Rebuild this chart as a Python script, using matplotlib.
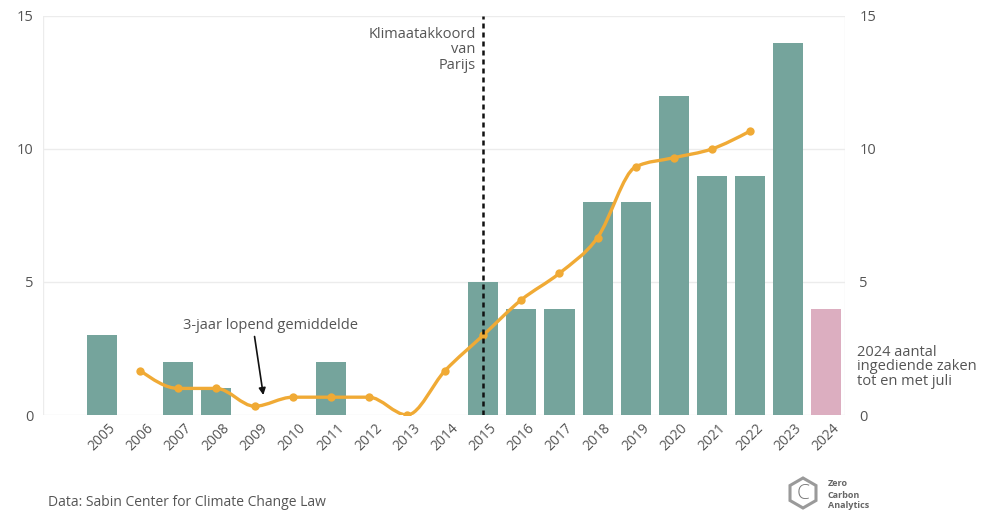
import numpy as np
import matplotlib
matplotlib.use("Agg")
import matplotlib.pyplot as plt
from matplotlib.path import Path
from matplotlib.patches import PathPatch, RegularPolygon

plt.rcParams['font.family'] = ['Open Sans', 'DejaVu Sans']

years = [2005, 2006, 2007, 2008, 2009, 2010, 2011, 2012, 2013, 2014,
         2015, 2016, 2017, 2018, 2019, 2020, 2021, 2022, 2023, 2024]
cases = [3, 0, 2, 1, 0, 0, 2, 0, 0, 0, 5, 4, 4, 8, 8, 12, 9, 9, 14, 4]
avg_years = [2006, 2007, 2008, 2009, 2010, 2011, 2012, 2013, 2014,
             2015, 2016, 2017, 2018, 2019, 2020, 2021, 2022]
avg_values = [1.67, 1.0, 1.0, 0.33, 0.67, 0.67, 0.67, 0.0, 1.67,
              3.0, 4.33, 5.33, 6.67, 9.33, 9.67, 10.0, 10.67]
yticks = [0, 5, 10, 15]

TEAL = '#75a49c'
PINK = '#dcaec0'
ORANGE = '#f0aa35'
GRID = '#ececec'
TXT = '#555555'

fig = plt.figure(figsize=(9.91, 5.13), dpi=100)
ax = fig.add_axes([0.0434, 0.191, 0.8096, 0.778])

colors = [TEAL] * (len(years) - 1) + [PINK]
ax.bar(years, cases, width=0.79, color=colors, zorder=2)


def monotone_path(xs, ys):
    xs = np.asarray(xs, float)
    ys = np.asarray(ys, float)
    n = len(xs)
    h = np.diff(xs)
    s = np.diff(ys) / h
    t = np.zeros(n)
    for i in range(1, n - 1):
        s0, s1 = s[i - 1], s[i]
        p = (s0 * h[i] + s1 * h[i - 1]) / (h[i - 1] + h[i])
        t[i] = (np.sign(s0) + np.sign(s1)) * min(abs(s0), abs(s1), 0.5 * abs(p))
    t[0] = (3 * s[0] - t[1]) / 2
    t[-1] = (3 * s[-1] - t[-2]) / 2
    verts = [(xs[0], ys[0])]
    codes = [Path.MOVETO]
    for i in range(n - 1):
        dx = h[i] / 3
        verts += [(xs[i] + dx, ys[i] + dx * t[i]),
                  (xs[i + 1] - dx, ys[i + 1] - dx * t[i + 1]),
                  (xs[i + 1], ys[i + 1])]
        codes += [Path.CURVE4] * 3
    return Path(verts, codes)


ax.add_patch(PathPatch(monotone_path(avg_years, avg_values), facecolor='none',
                       edgecolor=ORANGE, lw=2.4, zorder=4, capstyle='round'))
ax.scatter(avg_years, avg_values, s=36, color=ORANGE, zorder=5, linewidths=0)

ax.axvline(2015, ymin=0, ymax=1, color='#111111', lw=1.8, ls=(0, (2, 1.6)), zorder=6)

ax.set_xlim(2003.45, 2024.5)
ax.set_ylim(0, 15)
ax.set_yticks(yticks)
ax.set_yticklabels([str(v) for v in yticks])
ax.grid(axis='y', color=GRID, lw=1, zorder=0)
ax.set_axisbelow(True)
for sp in ax.spines.values():
    sp.set_visible(False)
ax.axvline(ax.get_xlim()[0], color=GRID, lw=1, zorder=0)
ax.axvline(ax.get_xlim()[1], color=GRID, lw=1, zorder=0)
ax.tick_params(axis='y', length=0, pad=7, labelsize=10.5, labelcolor=TXT)
ax.set_xticks(years)
ax.set_xticklabels([str(y) for y in years], rotation=45, fontsize=10, color=TXT)
ax.tick_params(axis='x', length=0, pad=4)
for lbl in ax.get_xticklabels():
    lbl.set_x(lbl.get_position()[0])

ax2 = ax.twinx()
ax2.set_ylim(0, 15)
ax2.set_yticks(yticks)
ax2.set_yticklabels([str(v) for v in yticks])
ax2.tick_params(axis='y', length=0, pad=10, labelsize=10.5, labelcolor=TXT)
for sp in ax2.spines.values():
    sp.set_visible(False)

ax.text(2014.8, 13.72, 'Klimaatakkoord\nvan\nParijs', ha='right', va='center',
        fontsize=10.5, color=TXT, linespacing=1.05, zorder=7)

ax.text(2009.43, 3.38, '3-jaar lopend gemiddelde', ha='center', va='center',
        fontsize=10.5, color=TXT)
ax.annotate('', xy=(2009.23, 0.75), xytext=(2009.0, 2.95),
            arrowprops=dict(arrowstyle='-|>', color='#111111', lw=1.2,
                            mutation_scale=10, shrinkA=0, shrinkB=0))

fig.text(857 / 991, 1 - 367 / 513, '2024 aantal\ningediende zaken\ntot en met juli',
         ha='left', va='center', fontsize=10.5, color=TXT, linespacing=0.95)

fig.text(48 / 991, 1 - 502 / 513, 'Data: Sabin Center for Climate Change Law',
         ha='left', va='center', fontsize=10, color=TXT)

# logo
lax = fig.add_axes([0, 0, 1, 1], facecolor='none')
lax.set_xlim(0, 991)
lax.set_ylim(513, 0)
lax.axis('off')
lax.add_patch(RegularPolygon((803, 493), numVertices=6, radius=15, orientation=0,
                             facecolor='none', edgecolor='#9a9a9a', lw=2.2))
lax.text(803, 494, 'C', ha='center', va='center', fontsize=15, color='#777777',
         fontweight='light')
lax.text(828, 484, 'Zero', ha='left', va='center', fontsize=6.5, color='#666666', fontweight='bold')
lax.text(828, 495, 'Carbon', ha='left', va='center', fontsize=6.5, color='#666666', fontweight='bold')
lax.text(828, 506, 'Analytics', ha='left', va='center', fontsize=6.5, color='#666666', fontweight='bold')

fig.savefig('out.png', dpi=100)
